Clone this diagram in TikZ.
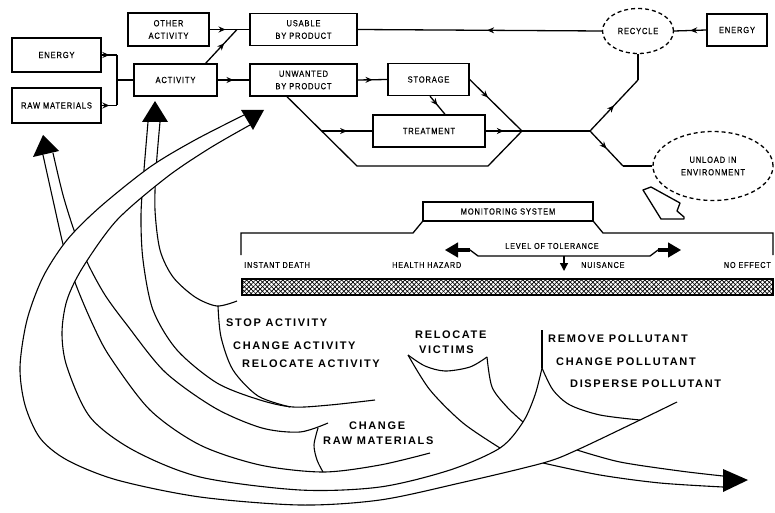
\documentclass[tikz,border=0pt]{standalone}
\usepackage{fontspec}
\setmainfont{Liberation Sans}
\newfontfamily\boxfont[FakeStretch=0.85,LetterSpace=10,FakeBold=0.4]{Liberation Sans}
\newfontfamily\optfont[LetterSpace=15]{Liberation Sans}
\usetikzlibrary{arrows.meta,decorations.markings,patterns.meta,shapes.geometric}

\tikzset{
  box/.style={draw, line width=1.4pt, inner sep=1pt, align=center,
    font=\boxfont\fontsize{8.8}{12.5}\selectfont},
  dashring/.style={ellipse, draw, dashed, line width=1.3pt, dash pattern=on 4pt off 3pt,
    inner sep=0pt, align=center, font=\boxfont\fontsize{8.8}{12.5}\selectfont},
  flow/.style={line width=1.3pt},
  midarrow/.style={postaction={decorate}, decoration={markings,
    mark=at position #1 with {\arrow{Stealth[length=7pt,width=6pt]}}}},
  midarrow/.default=0.5,
  ribbon/.style={line width=1.1pt, line join=round},
  optlabel/.style={font=\optfont\bfseries\fontsize{11}{13}\selectfont, anchor=west, inner sep=0pt},
  scalelabel/.style={font=\boxfont\fontsize{8.5}{10}\selectfont, inner sep=0pt}
}

\begin{document}
\begin{tikzpicture}[x=1pt, y=-1pt]
\useasboundingbox (0,0) rectangle (775,513);

% process chain
\begin{scope}[every node/.style={box}]
  \node[minimum width=89pt, minimum height=34pt] (energyL)  at (56.5,55)   {ENERGY};
  \node[minimum width=89pt, minimum height=35pt] (raw)      at (56.5,105.5) {RAW MATERIALS};
  \node[minimum width=83pt, minimum height=32pt] (activity) at (175.5,80)  {ACTIVITY};
  \node[minimum width=81pt, minimum height=33pt] (other)    at (168.5,29.5) {OTHER\\ACTIVITY};
  \node[minimum width=107pt, minimum height=32pt] (usable)  at (303.5,29.5) {USABLE\\BY PRODUCT};
  \node[minimum width=107pt, minimum height=32pt] (unwanted) at (303.5,80) {UNWANTED\\BY PRODUCT};
  \node[minimum width=81pt, minimum height=32pt] (storage)  at (428.5,79.5) {STORAGE};
  \node[minimum width=112pt, minimum height=32pt] (treatment) at (429,131) {TREATMENT};
  \node[minimum width=60pt, minimum height=32pt] (energyR)  at (737,30)    {ENERGY};
  \node[minimum width=170pt, minimum height=19pt] (monitor) at (508,211.5) {MONITORING SYSTEM};
\end{scope}

\begin{scope}[every node/.style={dashring}]
  \node[minimum width=71pt, minimum height=45pt] (recycle) at (638,31) {RECYCLE};
  \node[minimum width=120pt, minimum height=69pt] (unload) at (713,166) {UNLOAD IN\\ENVIRONMENT};
\end{scope}

% junctions
\coordinate (ein) at (117,55);
\coordinate (rin) at (117,105.5);
\coordinate (jin) at (117,80);
\coordinate (aout) at (205,64);
\coordinate (uin) at (237,29.5);
\coordinate (b1) at (322,131);
\coordinate (m1) at (522,131);
\coordinate (s1) at (590,131);
\coordinate (r1) at (638,80);
\coordinate (u1) at (623,166);

\draw[flow, midarrow] (energyL.east) -- (ein);
\draw[flow, midarrow] (raw.east) -- (rin);
\draw[flow] (ein) -- (rin);
\draw[flow] (jin) -- (activity.west);
\draw[flow, midarrow=0.4] (other.east) -- (usable.west);
\draw[flow, midarrow=0.6] (aout) -- (uin);
\draw[flow, midarrow] (activity.east) -- (unwanted.west);
\draw[flow, midarrow] (unwanted.east) -- (storage.west);
\draw[flow, midarrow] ([xshift=1.5pt]storage.south) -- ([xshift=16pt]treatment.north);
\draw[flow, midarrow=0.35] (storage.east) -- (m1);
\draw[flow, midarrow] (treatment.east) -- (m1);
\draw[flow] ([xshift=-16.5pt]unwanted.south) -- (357,166) -- (488,166) -- (m1);
\draw[flow, midarrow] (b1) -- (treatment.west);
\draw[flow] (m1) -- (s1);
\draw[flow, midarrow] (s1) -- (r1);
\draw[flow] (r1) -- (recycle.south);
\draw[flow, midarrow] (s1) -- (u1);
\draw[flow] (u1) -- (unload.west);
\draw[flow, midarrow=0.47] (recycle.west) -- (usable.east);
\draw[flow, midarrow] (energyR.west) -- (recycle.east);

\draw[flow, line join=round] (643,190) -- (651,187) -- (680,203) -- (677,211) -- (684,217)
  -- (684,219) -- (661,219) -- cycle;

% monitoring and scale
\draw[flow] (241,255) -- (241,233) -- (413,233) -- (monitor.south west);
\draw[flow] (monitor.south east) -- (603,233) -- (773,233) -- (773,255);
\node[scalelabel] (tol) at (552,246) {LEVEL OF TOLERANCE};
\draw[flow, line join=round, {Triangle[length=13pt,width=15pt]}-{Triangle[length=13pt,width=15pt]}]
  (445,250) -- (470,250) -- (478,256) -- (650,256) -- (658,250) -- (681,250);
\draw[line width=3.5pt] (455,250) -- (470,250);
\draw[line width=3.5pt] (658,250) -- (671,250);
\draw[flow, -{Triangle[length=8pt,width=8pt]}] (564,256) -- (564,271);

\node[scalelabel, anchor=west] (death)    at (244,265) {INSTANT DEATH};
\node[scalelabel, anchor=west] (hazard)   at (392,265) {HEALTH HAZARD};
\node[scalelabel, anchor=west] (nuisance) at (581,265) {NUISANCE};
\node[scalelabel, anchor=east] (noeff)    at (771,265) {NO EFFECT};

\fill[pattern={Lines[angle=45,distance=3.2pt,line width=0.7pt]}] (242,279) rectangle (773,295);
\fill[pattern={Lines[angle=-45,distance=3.2pt,line width=0.7pt]}] (242,279) rectangle (773,295);
\draw[line width=1.6pt] (242,279) rectangle (773,295);

% activity ribbon
\draw[ribbon] plot[smooth] coordinates {(148,122) (144,170) (141,215) (143,260) (153,310) (177,350)
  (217,383) (260,400) (293,407) (330,405) (375,400)};
\draw[ribbon] plot[smooth] coordinates {(160,122) (156,170) (155,210) (160,250) (173,277) (195,297)
  (217,306) (237,301)};
\draw[ribbon] plot[smooth] coordinates {(218,306) (221,337) (233,370) (258,396) (290,407)};
\fill (155,101) -- (142,122) -- (168,122) -- cycle;

% raw materials ribbon
\draw[ribbon] plot[smooth] coordinates {(43,155) (53,200) (64,248) (76,285) (93,325) (110,357)
  (150,410) (200,445) (260,465) (323,472) (380,465) (430,453)};
\draw[ribbon] plot[smooth] coordinates {(53,153) (63,195) (75,233) (88,264) (105,295) (127,325)
  (165,372) (215,408) (262,428) (300,432) (328,423)};
\draw[ribbon] plot[smooth] coordinates {(318,428) (314,445) (317,460) (323,472)};
\fill (43,135) -- (33,157) -- (59,151) -- cycle;

% victims ribbon
\draw[ribbon] plot[smooth] coordinates {(408,355) (425,366) (445,371) (470,367) (487,357)};
\draw[ribbon] plot[smooth] coordinates {(408,355) (430,390) (463,423) (500,448)};
\draw[ribbon] plot[smooth] coordinates {(487,357) (492,387) (507,407) (523,422)};
\draw[ribbon] plot[smooth] coordinates {(577,450) (620,462) (680,471) (723,476)};
\draw[ribbon] plot[smooth] coordinates {(543,463) (600,475) (660,483) (723,487)};
\fill (723,469) -- (748,480) -- (723,492) -- cycle;

% pollutant ribbon, on top
\fill[white] plot[smooth] coordinates {(244,115) (195,140) (150,167) (100,207) (67,240) (43,277)
  (27,320) (20,367) (25,405) (40,438) (67,460) (117,480) (200,497) (300,505) (380,500)
  (460,483) (543,463) (577,450) (640,420)}
  -- plot[smooth] coordinates {(640,420) (600,415) (570,405) (553,390) (542,368)}
  -- plot[smooth] coordinates {(542,368) (535,395) (523,422) (500,448) (450,470) (380,487)
  (300,490) (200,477) (133,450) (90,417) (67,367) (62,333) (67,300) (83,267) (117,220)
  (167,177) (210,148) (250,125)} -- cycle;
\draw[ribbon] plot[smooth] coordinates {(244,115) (195,140) (150,167) (100,207) (67,240) (43,277)
  (27,320) (20,367) (25,405) (40,438) (67,460) (117,480) (200,497) (300,505) (380,500)
  (460,483) (543,463) (577,450) (640,420) (677,402)};
\draw[ribbon] plot[smooth] coordinates {(542,368) (535,395) (523,422) (500,448) (450,470) (380,487)
  (300,490) (200,477) (133,450) (90,417) (67,367) (62,333) (67,300) (83,267) (117,220)
  (167,177) (210,148) (250,125)};
\draw[ribbon] plot[smooth] coordinates {(542,368) (553,390) (570,405) (600,415) (640,420)};
\draw[ribbon] (542,330) -- (542,368);
\fill (264,110) -- (241,110) -- (253,130) -- cycle;

% options
\node[optlabel] (stop)     at (226,323) {STOP ACTIVITY};
\node[optlabel] (chact)    at (233,346) {CHANGE ACTIVITY};
\node[optlabel] (relact)   at (242,364) {RELOCATE ACTIVITY};
\node[optlabel] (chraw1)   at (349,426) {CHANGE};
\node[optlabel] (chraw2)   at (323,441) {RAW MATERIALS};
\node[optlabel] (relvic1)  at (415,335) {RELOCATE};
\node[optlabel] (relvic2)  at (419,350) {VICTIMS};
\node[optlabel] (rempol)   at (548,339) {REMOVE POLLUTANT};
\node[optlabel] (chpol)    at (556,362) {CHANGE POLLUTANT};
\node[optlabel] (dispol)   at (570,384) {DISPERSE POLLUTANT};

\end{tikzpicture}
\end{document}
